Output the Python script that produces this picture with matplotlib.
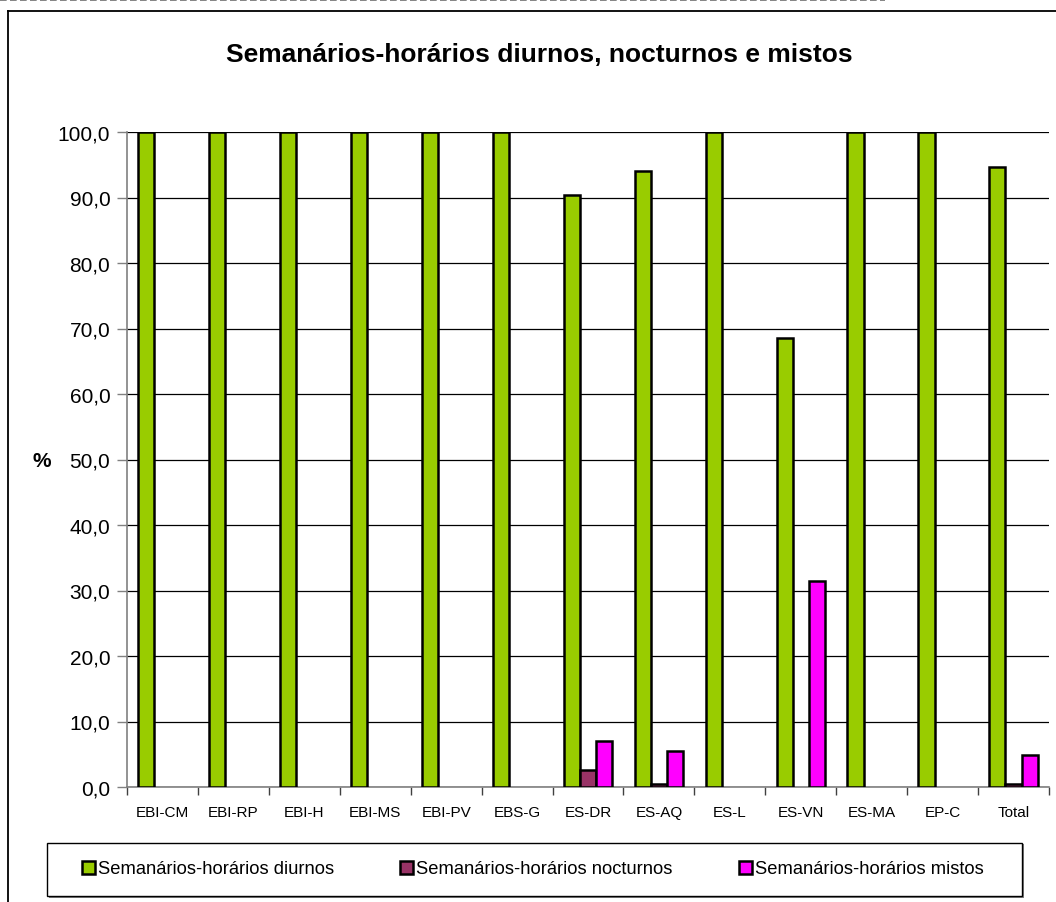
import matplotlib
matplotlib.use("Agg")
import matplotlib.pyplot as plt
import numpy as np
from matplotlib.lines import Line2D
from matplotlib.patches import Patch, Rectangle

plt.rcParams['font.family'] = ['Liberation Sans', 'DejaVu Sans']

escolas = ['EBI-CM', 'EBI-RP', 'EBI-H', 'EBI-MS', 'EBI-PV', 'EBS-G', 'ES-DR',
           'ES-AQ', 'ES-L', 'ES-VN', 'ES-MA', 'EP-C', 'Total']
diurnos = [100, 100, 100, 100, 100, 100, 90.4, 94.0, 100, 68.5, 100, 100, 94.7]
nocturnos = [0, 0, 0, 0, 0, 0, 2.6, 0.5, 0, 0, 0, 0, 0.4]
mistos = [0, 0, 0, 0, 0, 0, 7.0, 5.5, 0, 31.5, 0, 0, 4.9]

series = [
    ('Semanários-horários diurnos', diurnos, '#99CC00'),
    ('Semanários-horários nocturnos', nocturnos, '#993366'),
    ('Semanários-horários mistos', mistos, '#FF00FF'),
]

fig = plt.figure(figsize=(10.56, 9.03), dpi=100)
ax = fig.add_axes([127 / 1056, 1 - 788 / 903, 922 / 1056, 655 / 903])

x = np.arange(len(escolas))
w = 0.228
for k, (nome, vals, cor) in enumerate(series):
    v = np.array(vals, dtype=float)
    mask = v > 0
    ax.bar(x[mask] + (k - 1) * w, v[mask], width=w, color=cor,
           edgecolor='black', linewidth=1.8, zorder=3)

ax.set_xlim(-0.5, len(escolas) - 0.5)
ax.set_ylim(0, 100)
ax.set_yticks(np.arange(0, 101, 10))
ax.set_yticklabels([f'{v:.1f}'.replace('.', ',') for v in range(0, 101, 10)],
                   fontsize=15)
ax.yaxis.grid(True, color='black', linewidth=0.9, zorder=0)
ax.tick_params(axis='y', length=7, width=1, color='#808080', pad=5)

ax.set_xticks(x)
ax.set_xticklabels(escolas, fontsize=11)
ax.set_xticks(np.arange(-0.5, len(escolas), 1), minor=True)
ax.tick_params(axis='x', which='major', length=0, pad=13)
ax.tick_params(axis='x', which='minor', length=6, width=1, color='#404040')

for s in ['top', 'right']:
    ax.spines[s].set_visible(False)
ax.spines['left'].set_color('#808080')
ax.spines['bottom'].set_color('#808080')
ax.spines['left'].set_linewidth(1.2)
ax.spines['bottom'].set_linewidth(1.2)
ax.axhline(100, color='#808080', linewidth=1.2, zorder=1)

fig.text(42 / 1056, 1 - 462 / 903, '%', fontsize=15, fontweight='bold',
         ha='center', va='center')
fig.text(539 / 1056, 1 - 55 / 903, 'Semanários-horários diurnos, nocturnos e mistos',
         fontsize=19, fontweight='bold', ha='center', va='center')

# moldura do gráfico
fig.add_artist(Line2D([8 / 1056, 8 / 1056], [0, 1 - 12 / 903], color='black',
                      linewidth=1.3, transform=fig.transFigure))
fig.add_artist(Line2D([8 / 1056, 1], [1 - 12 / 903, 1 - 12 / 903], color='black',
                      linewidth=1.3, transform=fig.transFigure))
fig.add_artist(Line2D([0, 885 / 1056], [1 - 1 / 903, 1 - 1 / 903], color='#707070',
                      linewidth=1.2, linestyle=(0, (4, 2)), transform=fig.transFigure))

# caixa da legenda (com sombra)
fig.add_artist(Rectangle((49 / 1056, 1 - 899 / 903), 975 / 1056, 54 / 903,
                         transform=fig.transFigure, facecolor='#808080',
                         edgecolor='none'))
fig.add_artist(Rectangle((47 / 1056, 1 - 897 / 903), 975 / 1056, 53 / 903,
                         transform=fig.transFigure, facecolor='white',
                         edgecolor='black', linewidth=1.0))

handles = [Patch(facecolor=c, edgecolor='black', linewidth=1.8) for _, _, c in series]
labels = [n for n, _, _ in series]
leg = fig.legend(handles, labels, ncol=3, fontsize=13.2,
                 bbox_to_anchor=(82 / 1056, 1 - 870 / 903), loc='center left',
                 handlelength=0.7, handleheight=0.7, handletextpad=0.18,
                 columnspacing=3.6, borderaxespad=0, borderpad=0, frameon=False)

fig.savefig('out.png', dpi=100)
